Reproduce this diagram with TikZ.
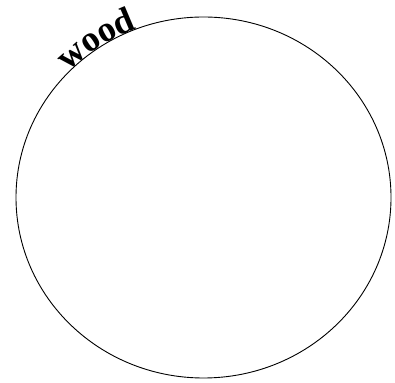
\documentclass[tikz,border=0pt]{standalone}
\usepackage{fontspec}
\setmainfont{Liberation Serif}
\usetikzlibrary{decorations.text}
\begin{document}
\begin{tikzpicture}[x=1pt,y=1pt,
  ring/.style={draw=black,line width=0.9pt},
  woodtext/.style={decorate,decoration={text along path,
    text={|\fontsize{36}{36}\selectfont\bfseries|wood}}}]
\useasboundingbox (0,0) rectangle (395,382);
\coordinate (c) at (203.5,184.5);
\draw[ring] (c) ellipse [x radius=187.5, y radius=180.5];
\path[woodtext] (c) ++(136:187.5 and 180.5) arc [start angle=136, end angle=60, x radius=187.5, y radius=180.5];
\end{tikzpicture}
\end{document}
